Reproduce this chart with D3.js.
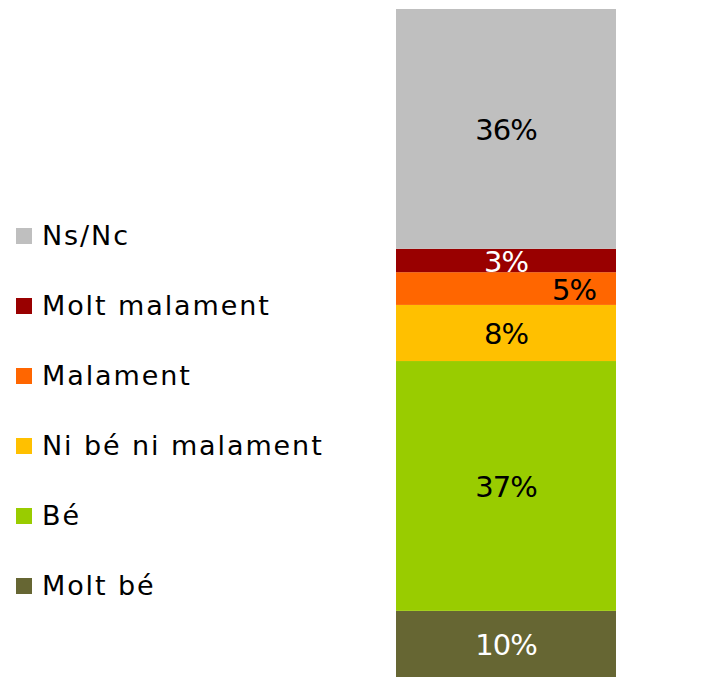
<!DOCTYPE html>
<html>
<head>
<meta charset="utf-8">
<script src="https://cdn.jsdelivr.net/npm/d3@7"></script>
<style>
  html, body { margin: 0; padding: 0; background: #ffffff; }
  svg { display: block; }
  text { font-family: "DejaVu Sans", sans-serif; }
</style>
</head>
<body>
<svg id="chart" width="720" height="677"></svg>
<script>
// Categories, bottom to top of the stack
const categories = ["Molt bé", "Bé", "Ni bé ni malament", "Malament", "Molt malament", "Ns/Nc"];
// Shares (%)
const values = [9.9, 37.4, 8.4, 4.9, 3.5, 35.9];
// Data labels as shown
const labels = ["10%", "37%", "8%", "5%", "3%", "36%"];
const colors = ["#666633", "#99CC00", "#FFC000", "#FF6600", "#990000", "#BFBFBF"];
const labelColors = ["#ffffff", "#000000", "#000000", "#000000", "#ffffff", "#000000"];
const barGroup = ["Total"];

const svg = d3.select("#chart");

const total = d3.sum(values);
const stackData = [Object.fromEntries(categories.map((c, i) => [c, values[i]]))];
stackData[0].group = barGroup[0];
const series = d3.stack().keys(categories)(stackData);

const x = d3.scaleBand().domain(barGroup).range([396, 616]).padding(0);
const y = d3.scaleLinear().domain([0, total]).range([677, 9]);

const bars = svg.append("g");
series.forEach((s, i) => {
  const d = s[0];
  bars.append("rect")
    .attr("x", x(d.data.group))
    .attr("width", x.bandwidth())
    .attr("y", y(d[1]))
    .attr("height", y(d[0]) - y(d[1]))
    .attr("fill", colors[i]);
});

// Data labels
series.forEach((s, i) => {
  const d = s[0];
  const cx = x(d.data.group) + x.bandwidth() / 2;
  const isShifted = categories[i] === "Malament";
  svg.append("text")
    .attr("x", isShifted ? x(d.data.group) + x.bandwidth() - 20 : cx)
    .attr("y", (y(d[0]) + y(d[1])) / 2 + 1)
    .attr("text-anchor", isShifted ? "end" : "middle")
    .attr("dominant-baseline", "central")
    .attr("font-size", 29)
    .attr("letter-spacing", -1)
    .attr("fill", labelColors[i])
    .text(labels[i]);
});

// Legend (top to bottom: reverse of stack order)
const legendOrder = categories.map((c, i) => i).reverse();
const legend = svg.append("g");
legendOrder.forEach((idx, k) => {
  const cy = 236 + k * 70;
  legend.append("rect")
    .attr("x", 16).attr("y", cy - 8)
    .attr("width", 16).attr("height", 16)
    .attr("fill", colors[idx]);
  legend.append("text")
    .attr("x", 42).attr("y", cy + 9)
    .attr("font-size", 27)
    .attr("letter-spacing", 1.9)
    .attr("fill", "#000000")
    .text(categories[idx]);
});
</script>
</body>
</html>
